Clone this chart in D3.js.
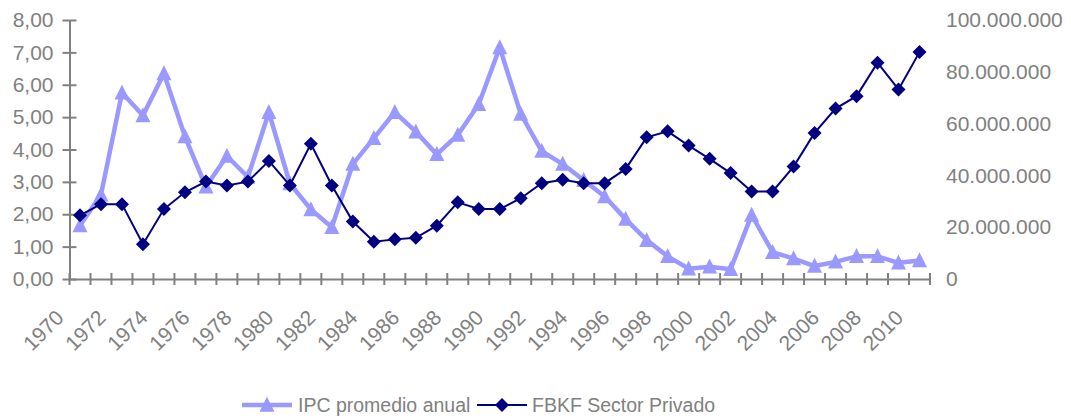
<!DOCTYPE html>
<html>
<head>
<meta charset="utf-8">
<script src="https://cdn.jsdelivr.net/npm/d3@7"></script>
<style>
  body { margin: 0; background: white; }
  svg { display: block; font-family: "Liberation Sans", Arial, sans-serif; }
</style>
</head>
<body>
<svg id="chart"></svg>
<script>
const years = d3.range(1970, 2011)
const yearLabels = d3.range(1970, 2011, 2)

// IPC promedio anual (left axis)
const ipc = [
  1.65, 2.6, 5.75, 5.05, 6.35, 4.4, 2.85, 3.8, 3.15, 5.15,
  2.95, 2.15, 1.6, 3.55, 4.35, 5.15, 4.55, 3.85, 4.45, 5.4,
  7.15, 5.1, 3.95, 3.55, 3.05, 2.55, 1.85, 1.2, 0.7, 0.32,
  0.38, 0.3, 1.98, 0.83, 0.63, 0.4, 0.53, 0.7, 0.7, 0.5, 0.57,
]

// FBKF Sector Privado (right axis), millions
const fbkf = [
  24.6, 28.9, 28.9, 13.4, 27.0, 33.5, 37.6, 36.1, 37.6, 45.6,
  36.1, 52.2, 36.1, 22.2, 14.4, 15.3, 15.9, 20.6, 29.6, 27.0,
  27.0, 31.2, 37.0, 38.3, 37.0, 37.0, 42.5, 54.7, 57.0, 51.5,
  46.4, 40.9, 33.8, 33.8, 43.4, 56.4, 65.8, 70.6, 83.5, 73.2, 87.6,
]

const leftTicks = d3.range(0, 9)
const rightTicks = d3.range(0, 100000001, 20000000)

const w = 1071
const h = 419
const padLeft = 69.5
const padRight = 930
const padTop = 20
const padBottom = 279
const grey = "#808080"
const lightBlue = "#9999ff"
const navy = "#000080"

const svg = d3.select("#chart").attr("width", w).attr("height", h)

const xScale = d3.scaleBand().domain(years).range([padLeft, padRight]).padding(0)
const xMid = (yr) => xScale(yr) + xScale.bandwidth() / 2
const yLeft = d3.scaleLinear().domain([0, 8]).range([padBottom, padTop])
const yRight = d3.scaleLinear().domain([0, 100000000]).range([padBottom, padTop])

const loc = d3.formatLocale({ decimal: ",", thousands: ".", grouping: [3], currency: ["", ""] })
const fmtLeft = loc.format(".2f")
const fmtRight = loc.format(",d")

// left axis
const leftAxis = svg
  .append("g")
  .attr("transform", `translate(${padLeft},0)`)
  .call(d3.axisLeft(yLeft).tickValues(leftTicks).tickFormat(fmtLeft).tickSizeOuter(0))
leftAxis.select(".domain").attr("stroke", grey).attr("stroke-width", 2)
leftAxis.selectAll(".tick line").attr("x1", -7).attr("x2", 7).attr("stroke", grey).attr("stroke-width", 2)
leftAxis
  .selectAll(".tick text")
  .attr("x", -16)
  .attr("fill", grey)
  .style("font-size", "21px")

// right axis (labels only)
const rightAxis = svg
  .append("g")
  .attr("transform", `translate(${padRight},0)`)
  .call(d3.axisRight(yRight).tickValues(rightTicks).tickFormat(fmtRight).tickSize(0))
rightAxis.select(".domain").remove()
rightAxis
  .selectAll(".tick text")
  .attr("x", 16)
  .attr("fill", grey)
  .style("font-size", "21px")

// x axis
const xAxis = svg
  .append("g")
  .attr("transform", `translate(0,${padBottom})`)
  .call(d3.axisBottom(xScale).tickValues([]).tickSizeOuter(0))
xAxis.select(".domain").attr("stroke", grey).attr("stroke-width", 2)

const bounds = years.map((yr) => xScale(yr)).concat([xScale(years[years.length - 1]) + xScale.bandwidth()])
xAxis
  .selectAll("line.cat")
  .data(bounds)
  .enter()
  .append("line")
  .attr("class", "cat")
  .attr("x1", (d) => d)
  .attr("x2", (d) => d)
  .attr("y1", -6)
  .attr("y2", 6)
  .attr("stroke", grey)
  .attr("stroke-width", 2)

xAxis
  .selectAll("text.yr")
  .data(yearLabels)
  .enter()
  .append("text")
  .attr("class", "yr")
  .attr("transform", (d) => `translate(${xMid(d) - 15},40) rotate(-45)`)
  .attr("text-anchor", "end")
  .attr("fill", grey)
  .style("font-size", "21px")
  .text((d) => d)

// markers
const triPath = (cx, cy, s) =>
  `M${cx},${cy - s * 0.55} L${cx + s / 2},${cy + s * 0.45} L${cx - s / 2},${cy + s * 0.45} Z`
const diaPath = (cx, cy, r) => `M${cx},${cy - r} L${cx + r},${cy} L${cx},${cy + r} L${cx - r},${cy} Z`

// IPC series
const ipcLine = d3
  .line()
  .x((d, i) => xMid(years[i]))
  .y((d) => yLeft(d))
svg
  .append("path")
  .datum(ipc)
  .attr("d", ipcLine)
  .attr("fill", "none")
  .attr("stroke", lightBlue)
  .attr("stroke-width", 4.5)
  .attr("stroke-linejoin", "round")
svg
  .selectAll("path.tri")
  .data(ipc)
  .enter()
  .append("path")
  .attr("class", "tri")
  .attr("d", (d, i) => triPath(xMid(years[i]), yLeft(d), 15))
  .attr("fill", lightBlue)

// FBKF series
const fbkfLine = d3
  .line()
  .x((d, i) => xMid(years[i]))
  .y((d) => yRight(d * 1000000))
svg
  .append("path")
  .datum(fbkf)
  .attr("d", fbkfLine)
  .attr("fill", "none")
  .attr("stroke", navy)
  .attr("stroke-width", 2)
svg
  .selectAll("path.dia")
  .data(fbkf)
  .enter()
  .append("path")
  .attr("class", "dia")
  .attr("d", (d, i) => diaPath(xMid(years[i]), yRight(d * 1000000), 7))
  .attr("fill", navy)

// legend
const legend = svg.append("g").attr("id", "legend")
legend
  .append("line")
  .attr("x1", 242)
  .attr("x2", 292)
  .attr("y1", 405)
  .attr("y2", 405)
  .attr("stroke", lightBlue)
  .attr("stroke-width", 4.5)
legend.append("path").attr("d", triPath(267, 405, 15)).attr("fill", lightBlue)
legend
  .append("text")
  .attr("x", 298)
  .attr("y", 412)
  .attr("fill", grey)
  .style("font-size", "19.5px")
  .text("IPC promedio anual")

legend
  .append("line")
  .attr("x1", 477)
  .attr("x2", 527)
  .attr("y1", 405)
  .attr("y2", 405)
  .attr("stroke", navy)
  .attr("stroke-width", 2)
legend.append("path").attr("d", diaPath(502, 405, 7)).attr("fill", navy)
legend
  .append("text")
  .attr("x", 532)
  .attr("y", 412)
  .attr("fill", grey)
  .style("font-size", "19.5px")
  .text("FBKF Sector Privado")
</script>
</body>
</html>
